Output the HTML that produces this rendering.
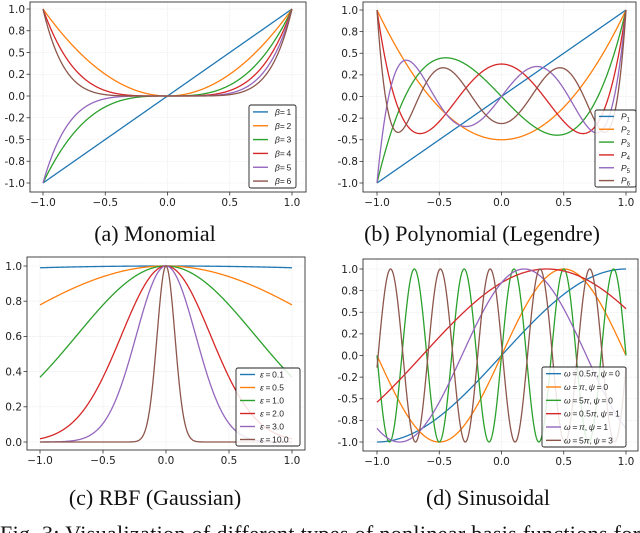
<!DOCTYPE html>
<html><head><meta charset="utf-8">
<style>
html,body{margin:0;padding:0;background:#fff;}
svg{display:block;}
.tick{font-family:"DejaVu Sans","Liberation Sans",sans-serif;font-size:10.5px;fill:#222;}
.cap{font-family:"Liberation Serif",serif;font-size:22px;fill:#111;}
.leg{font-family:"Liberation Sans","DejaVu Sans",sans-serif;font-size:8.5px;fill:#222;}
</style></head>
<body>
<svg id="fig" width="640" height="533" viewBox="0 0 640 533" xmlns="http://www.w3.org/2000/svg">
<text class="cap" x="155" y="241" text-anchor="middle">(a) Monomial</text>
<text class="cap" x="482" y="241" text-anchor="middle">(b) Polynomial (Legendre)</text>
<text class="cap" x="155" y="505" text-anchor="middle">(c) RBF (Gaussian)</text>
<text class="cap" x="488" y="505" text-anchor="middle">(d) Sinusoidal</text>
<text class="cap" x="0" y="541" textLength="640" lengthAdjust="spacing">Fig. 3: Visualization of different types of nonlinear basis functions for</text>
</svg>
<script>
const colors = ['#1f77b4','#ff7f0e','#2ca02c','#d62728','#9467bd','#8c564b'];
const xTickVals = [-1,-0.5,0,0.5,1];
const xTickLabels = ['\u22121.0','\u22120.5','0.0','0.5','1.0'];
const yTickVals = [-1,-0.75,-0.5,-0.25,0,0.25,0.5,0.75,1];
const yTickLabels = ['-1.0','-0.8','-0.5','-0.2','0.0','0.2','0.5','0.8','1.0'];
const rbfTickVals = [0,0.2,0.4,0.6,0.8,1];
const rbfTickLabels = ['0.0','0.2','0.4','0.6','0.8','1.0'];
const betas = [1,2,3,4,5,6];
const legendreOrders = [1,2,3,4,5,6];
const epsilons = [0.1,0.5,1.0,2.0,3.0,10.0];
const omegas = [0.5,1,5,0.5,1,5];
const psis = [0,0,0,1,1,3];

const NS='http://www.w3.org/2000/svg';
const svg=document.getElementById('fig');
function mk(tag,attrs,parent){const e=document.createElementNS(NS,tag);for(const k in attrs)e.setAttribute(k,attrs[k]);(parent||svg).appendChild(e);return e;}
function legendre(n,x){let p0=1,p1=x;if(n===0)return 1;for(let k=1;k<n;k++){const p2=((2*k+1)*x*p1-k*p0)/(k+1);p0=p1;p1=p2;}return p1;}

function panel(cfg){
  const g=mk('g',{});
  
  
  const [L,T,R,B]=cfg.box;
  const sx=v=>cfg.x0+(v+1)/2*(cfg.x1-cfg.x0);
  const sy=v=>cfg.yA+(v-cfg.vA)/(cfg.vB-cfg.vA)*(cfg.yB-cfg.yA);
  const cid='clip-'+cfg.name;
  const cp=mk('clipPath',{id:cid},g);mk('rect',{x:L,y:T,width:R-L,height:B-T},cp);
  xTickVals.forEach((v,i)=>{
    const gl=mk('line',{x1:sx(v),x2:sx(v),y1:T,y2:B,stroke:'#e4e4e4','stroke-width':0.6,'stroke-dasharray':'1.5,1'},g);
    
    const tk=mk('line',{x1:sx(v),x2:sx(v),y1:B,y2:B+3.5,stroke:'#333','stroke-width':0.8},g);
    
    const t=mk('text',{x:sx(v),y:B+14,'text-anchor':'middle',class:'tick'},g);t.textContent=xTickLabels[i];
    
  });
  cfg.yv.forEach((v,i)=>{
    const gl=mk('line',{x1:L,x2:R,y1:sy(v),y2:sy(v),stroke:'#e4e4e4','stroke-width':0.6,'stroke-dasharray':'1.5,1'},g);
    
    const tk=mk('line',{x1:L-3.5,x2:L,y1:sy(v),y2:sy(v),stroke:'#333','stroke-width':0.8},g);
    
    const t=mk('text',{x:L-5,y:sy(v)+3.8,'text-anchor':'end',class:'tick'},g);t.textContent=cfg.yl[i];
    
  });
  const cg=mk('g',{'clip-path':'url(#'+cid+')'},g);
  cfg.params.forEach((p,i)=>{
    let d='';const N=600;
    for(let k=0;k<=N;k++){const x=-1+2*k/N;const y=cfg.f(p,x,i);d+=(k?'L':'M')+sx(x).toFixed(2)+','+sy(y).toFixed(2);}
    const path=mk('path',{d:d,fill:'none',stroke:colors[i],'stroke-width':1.3},cg);
    
    
  });
  const frame=mk('rect',{x:L,y:T,width:R-L,height:B-T,fill:'none',stroke:'#333','stroke-width':0.9},g);
  
  const [lx,ly,lw,lh]=cfg.leg;
  const lg=mk('g',{},g);
  
  mk('rect',{x:lx,y:ly,width:lw,height:lh,rx:2,fill:'#fff','fill-opacity':0.85,stroke:'#222','stroke-width':0.9},lg);
  const rh=lh/6;
  cfg.labels.forEach((lab,i)=>{
    const cy=ly+rh*(i+0.5);
    const ent=mk('g',{},lg);
    
    mk('line',{x1:lx+4,x2:lx+19,y1:cy,y2:cy,stroke:colors[i],'stroke-width':1.4},ent);
    const t=mk('text',{x:lx+cfg.tx,y:cy+3,class:'leg'},ent);t.innerHTML=lab;
  });
}

panel({name:'monomial-chart',box:[30,2,306,192],x0:43,x1:292,yA:183,vA:-1,yB:9,vB:1,yv:yTickVals,yl:yTickLabels,
  params:betas,f:(b,x)=>Math.pow(x,b),leg:[249,105,47,83],tx:26,
  labels:betas.map(b=>'<tspan font-style="italic">β</tspan>=\u2009'+b)});
panel({name:'legendre-chart',box:[363,2,636,192],x0:377,x1:626,yA:183,vA:-1,yB:10,vB:1,yv:yTickVals,yl:yTickLabels,
  params:legendreOrders,f:(n,x)=>legendre(n,x),leg:[595,110,41,77],tx:26,
  labels:legendreOrders.map(n=>'<tspan font-style="italic">P</tspan><tspan font-size="6" dy="2">'+n+'</tspan>')});
panel({name:'rbf-chart',box:[27,257,305,450],x0:40,x1:292,yA:442,vA:0,yB:266,vB:1,yv:rbfTickVals,yl:rbfTickLabels,
  params:epsilons,f:(e,x)=>Math.exp(-(e*x)*(e*x)),leg:[236,368,64,78],tx:24,
  labels:epsilons.map(e=>'<tspan font-style="italic">ε</tspan>\u2009=\u2009'+e.toFixed(1))});
panel({name:'sinusoidal-chart',box:[363,259,638,451],x0:377,x1:626,yA:442,vA:-1,yB:269,vB:1,yv:yTickVals,yl:yTickLabels,
  params:omegas,f:(w,x,i)=>Math.sin(w*Math.PI*x+psis[i]),leg:[542,367,84,80],tx:22,
  labels:omegas.map((w,i)=>'<tspan font-style="italic">ω</tspan>\u2009=\u2009'+(w===1?'':w)+'<tspan font-style="italic">π</tspan>,\u2009<tspan font-style="italic">ψ</tspan>\u2009=\u2009'+psis[i])});
</script>
</body></html>
